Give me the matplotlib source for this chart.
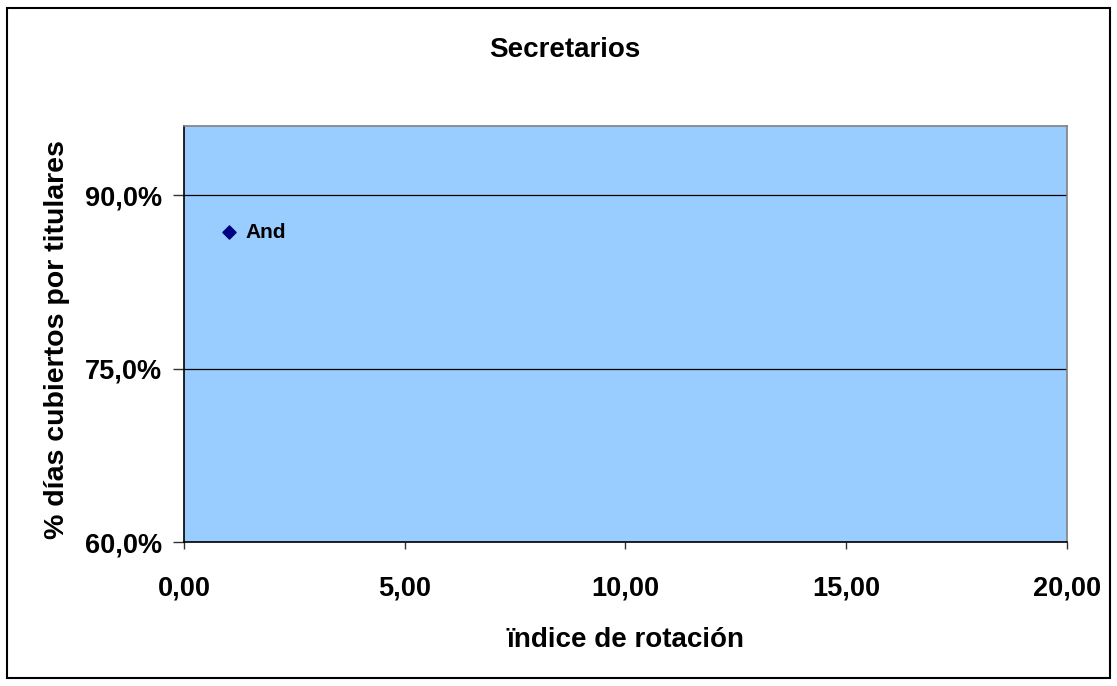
import matplotlib.pyplot as plt
from matplotlib.patches import Rectangle
from matplotlib.ticker import FuncFormatter, MultipleLocator

# data
labels = ['And']
rotacion = [1.02]
cubiertos = [0.868]

plt.rcParams['font.family'] = ['Liberation Sans', 'DejaVu Sans']
plt.rcParams['font.weight'] = 'bold'

fig = plt.figure(figsize=(11.17, 6.86), dpi=100)
ax = fig.add_axes([0.1647, 0.2099, 0.9552 - 0.1647, 0.8163 - 0.2099])

# outer frame of the chart area
fig.patches.append(Rectangle((7 / 1117, 8 / 686), 1103 / 1117, 670 / 686,
                             transform=fig.transFigure, fill=False,
                             edgecolor='black', linewidth=1.5))

ax.set_facecolor('#99CCFF')
ax.scatter(rotacion, cubiertos, marker='D', s=45, color='#000080', zorder=3)
for x, y, t in zip(rotacion, cubiertos, labels):
    ax.annotate(t, (x, y), xytext=(12, 0), textcoords='offset points',
                va='center', ha='left', fontsize=15, fontweight='bold')

ax.set_xlim(0, 20)
ax.set_ylim(0.60, 0.96)
ax.xaxis.set_major_locator(MultipleLocator(5))
ax.yaxis.set_major_locator(MultipleLocator(0.15))
ax.xaxis.set_major_formatter(FuncFormatter(lambda v, p: f'{v:.2f}'.replace('.', ',')))
ax.yaxis.set_major_formatter(FuncFormatter(lambda v, p: f'{v * 100:.1f}%'.replace('.', ',')))

ax.grid(axis='y', color='black', linewidth=0.9)
ax.set_axisbelow(True)

ax.spines['left'].set_color('black')
ax.spines['bottom'].set_color('black')
ax.spines['top'].set_color('#808080')
ax.spines['right'].set_color('#808080')
for s in ax.spines.values():
    s.set_linewidth(1.2)

ax.tick_params(axis='x', direction='out', length=5, width=1, pad=19,
               labelsize=19.5, color='#333333')
ax.tick_params(axis='y', direction='out', length=8, width=1, pad=8,
               labelsize=19.5, color='#333333')
for lab in ax.get_xticklabels() + ax.get_yticklabels():
    lab.set_fontweight('bold')

ax.set_xlabel('ïndice de rotación', fontsize=20, fontweight='bold')
ax.xaxis.set_label_coords(0.5, -0.205)
ax.set_ylabel('% días cubiertos por titulares', fontsize=20.5, fontweight='bold')
ax.yaxis.set_label_coords(-0.129, 0.486)

fig.text(0.5055, 1 - 57 / 686, 'Secretarios', ha='center', va='baseline',
         fontsize=20, fontweight='bold')

fig.savefig('out.png', dpi=100)
